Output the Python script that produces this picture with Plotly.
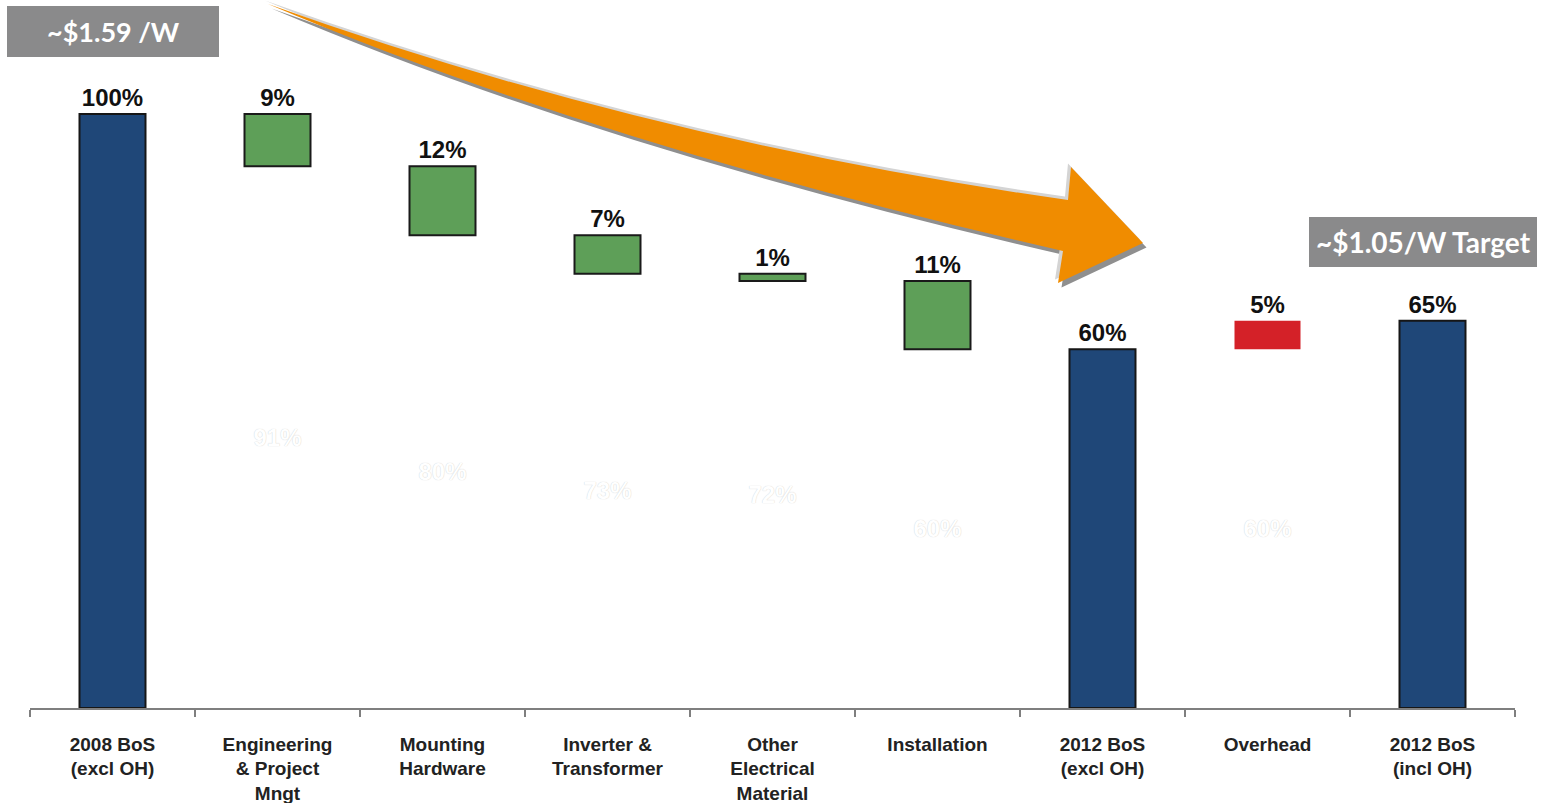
import numpy as np
import plotly.graph_objects as go

# ---------------- data ----------------
categories = ["2008 BoS<br>(excl OH)", "Engineering<br>& Project<br>Mngt", "Mounting<br>Hardware",
              "Inverter &<br>Transformer", "Other<br>Electrical<br>Material", "Installation",
              "2012 BoS<br>(excl OH)", "Overhead", "2012 BoS<br>(incl OH)"]
start_value = 100.0
reductions = [8.8, 11.6, 6.5, 1.2, 11.5]
reduction_labels = ["9%", "12%", "7%", "1%", "11%"]
running_labels = ["91%", "80%", "73%", "72%", "60%"]
overhead = 4.8
overhead_label = "5%"
overhead_base_label = "60%"
total_labels = ["100%", "60%", "65%"]
price_2008 = "~$1.59 /W"
price_target = "~$1.05/W Target"

lows = start_value - np.cumsum(reductions)
total_2012 = lows[-1]
total_2012_oh = total_2012 + overhead

# ---------------- layout helpers ----------------
W, H = 1545, 803
ML, MR, MT, MB = 30, 30, 10, 95
PW, PH = W - ML - MR, H - MT - MB


def px(x, y):
    return (x - ML) / PW, (H - MB - y) / PH


def path(points_cmds):
    out = []
    for cmd, pts in points_cmds:
        coords = " ".join("%.5f,%.5f" % px(x, y) for x, y in pts)
        out.append(cmd + " " + coords)
    return " ".join(out) + " Z"


def arrow_path(dx=0.0, dy=0.0):
    def o(p):
        return (p[0] + dx, p[1] + dy)
    return path([
        ("M", [o((268, 4))]),
        ("Q", [o((650, 141)), o((1068, 200))]),
        ("L", [o((1071, 167))]),
        ("L", [o((1143, 243))]),
        ("L", [o((1058, 283))]),
        ("L", [o((1063, 251))]),
        ("Q", [o((600, 145)), o((268, 4))]),
    ])


label_font = dict(family="Liberation Sans, Arial, sans-serif", size=24, color="#111111")

fig = go.Figure()

# invisible running-base bars carrying (white) labels
fig.add_trace(go.Bar(
    x=categories[1:6] + [categories[7]],
    y=list(lows) + [total_2012],
    base=0,
    marker=dict(color="rgba(0,0,0,0)", line=dict(width=0)),
    text=running_labels + [overhead_base_label],
    textposition="inside", insidetextanchor="middle", textangle=0,
    textfont=dict(family="Liberation Sans, Arial, sans-serif", size=24, color="#ffffff",
                  weight="bold", shadow="0px 0px 1px #c4c4c4"),
    hoverinfo="skip", showlegend=False,
))

# totals
fig.add_trace(go.Bar(
    x=[categories[0], categories[6], categories[8]],
    y=[start_value, total_2012, total_2012_oh],
    marker=dict(color="#1F4778", line=dict(color="#161616", width=2)),
    text=total_labels, textposition="outside", textangle=0,
    textfont=dict(label_font, weight="bold"), cliponaxis=False, showlegend=False,
))

# reductions
fig.add_trace(go.Bar(
    x=categories[1:6], y=reductions, base=lows,
    marker=dict(color="#5E9F58", line=dict(color="#1a1a1a", width=2)),
    text=reduction_labels, textposition="outside", textangle=0,
    textfont=dict(label_font, weight="bold"), cliponaxis=False, showlegend=False,
))

# overhead
fig.add_trace(go.Bar(
    x=[categories[7]], y=[overhead], base=[total_2012],
    marker=dict(color="#D42128", line=dict(width=0)),
    text=[overhead_label], textposition="outside", textangle=0,
    textfont=dict(label_font, weight="bold"), cliponaxis=False, showlegend=False,
))

shapes = [
    dict(type="path", xref="paper", yref="paper", path=arrow_path(3.5, 4.5),
         fillcolor="#8f8f8f", line=dict(width=0), layer="above"),
    dict(type="path", xref="paper", yref="paper", path=arrow_path(-3, -3.5),
         fillcolor="#d4d4d4", line=dict(width=0), layer="above"),
    dict(type="path", xref="paper", yref="paper", path=arrow_path(),
         fillcolor="#F08C00", line=dict(width=0), layer="above"),
]
# gray label boxes
for (x0, y0, x1, y1) in [(7, 6, 219, 57), (1309, 217, 1537, 267)]:
    a0 = px(x0, y1)
    a1 = px(x1, y0)
    shapes.append(dict(type="rect", xref="paper", yref="paper",
                       x0=a0[0], y0=a0[1], x1=a1[0], y1=a1[1],
                       fillcolor="#8a8a8b", line=dict(width=0), layer="above"))

ann = []
for txt, (cx, cy), sz in [(price_2008, (113, 31.5), 27), (price_target, (1423, 242), 28)]:
    ax, ay = px(cx, cy)
    ann.append(dict(text="<b>%s</b>" % txt, xref="paper", yref="paper", x=ax, y=ay,
                    xanchor="center", yanchor="middle", showarrow=False,
                    font=dict(family="Lato, Open Sans, sans-serif", size=sz, color="#ffffff")))

fig.update_layout(
    width=W, height=H,
    margin=dict(l=ML, r=MR, t=MT, b=MB, autoexpand=False),
    paper_bgcolor="white", plot_bgcolor="white",
    barmode="overlay", bargap=0.6,
    shapes=shapes, annotations=ann,
    xaxis=dict(type="category", categoryorder="array", categoryarray=categories,
               showline=True, linecolor="#7f7f7f", linewidth=1.5,
               ticks="outside", tickson="boundaries", ticklen=7, tickcolor="#7f7f7f",
               tickwidth=1.5, showgrid=False, zeroline=False, fixedrange=True,
               ticklabelstandoff=18, automargin=False,
               tickfont=dict(family="Liberation Sans, Arial, sans-serif", size=19,
                             color="#222222", weight="bold")),
    yaxis=dict(range=[0, PH / 5.94], visible=False, showgrid=False, zeroline=False,
               fixedrange=True, automargin=False),
)

fig.write_html("out.html")
